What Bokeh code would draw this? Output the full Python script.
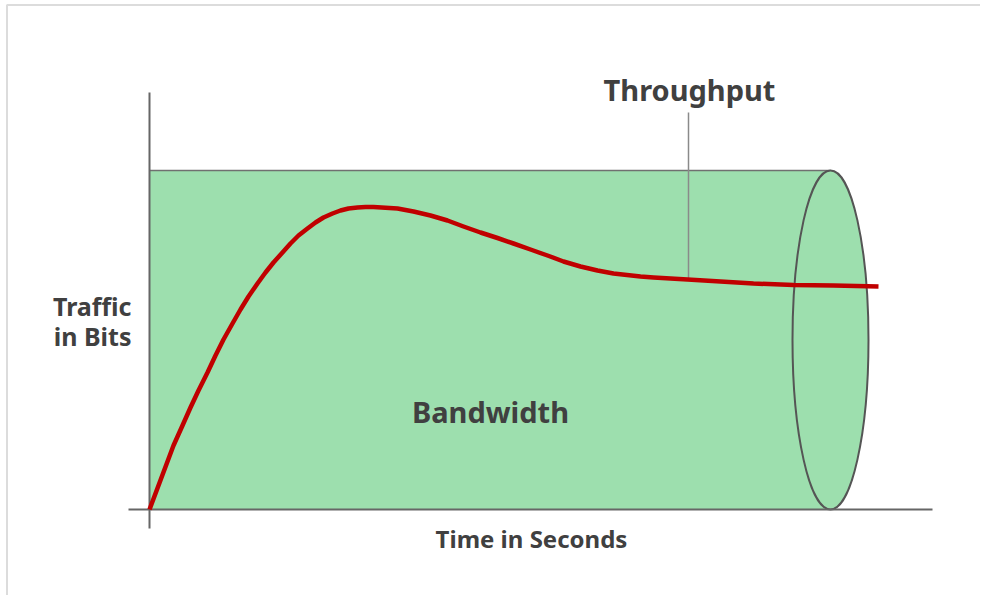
from bokeh.plotting import figure
from bokeh.models import Range1d
from bokeh.core.properties import value
from bokeh.embed import file_html
from bokeh.resources import INLINE

# ---- data (time units, traffic units; origin at axis crossing) ----
time = [0, 24, 33, 41, 49, 58, 66, 74, 83, 91, 99, 108, 116, 124, 133, 141, 149, 158,
        166, 174, 183, 191, 199, 208, 216, 224, 248, 264, 281, 298, 314, 331, 348, 364,
        381, 398, 414, 431, 448, 464, 491, 504, 538, 571, 604, 644, 684, 729]
throughput = [0, 64, 84, 102, 119, 137, 154, 170, 186, 200, 213, 226, 237, 247, 257, 266, 274, 281,
              287, 292, 296, 299, 301, 302, 302.5, 302.5, 301, 298, 294, 289, 283, 277, 271.5, 266,
              260, 254, 248, 243, 239, 236, 233, 232, 230, 228, 226, 224.5, 224, 223]
bandwidth_level = 339
pipe_length = 681
pipe_end_width = 76

x_axis_extent = [-21, 783]
y_axis_extent = [-19, 417]
leader_x = 539
leader_y = [231, 397]

label_throughput = "Throughput"
label_bandwidth = "Bandwidth"
label_x = "Time in Seconds"
label_y = ["Traffic", "in Bits"]

FONT = value("Noto Sans")
TXT = "#404040"
GREEN = "#9ddfae"

p = figure(width=980, height=595, output_backend="svg", toolbar_location=None,
           x_range=Range1d(-149, 831), y_range=Range1d(-86, 509),
           x_axis_location=None, y_axis_location=None, min_border=0,
           background_fill_color="white")
p.grid.visible = False
p.outline_line_color = None

# frame border (left and top only visible)
p.line([-142.5, -142.5, 831], [-86, 504.5, 504.5], line_color="#dcdcdc", line_width=2)

# bandwidth pipe body
p.quad(left=[0], right=[pipe_length], bottom=[0], top=[bandwidth_level],
       fill_color=GREEN, line_color=None)
p.line([0, pipe_length], [bandwidth_level, bandwidth_level], line_color="#707070", line_width=1.5)
# pipe end
p.ellipse(x=[pipe_length], y=[bandwidth_level / 2], width=[pipe_end_width], height=[bandwidth_level],
          fill_color=GREEN, line_color="#555555", line_width=2)

# axes
p.line(x_axis_extent, [0, 0], line_color="#666666", line_width=2)
p.line([0, 0], y_axis_extent, line_color="#666666", line_width=2)

# leader line
p.line([leader_x, leader_x], leader_y, line_color="#8a8a8a", line_width=1.5)

# throughput curve
p.line(time, throughput, line_color="#c00000", line_width=4.5, line_join="round")

# labels
p.text(x=[leader_x + 1], y=[420], text=[label_throughput], text_font=FONT, text_font_style="bold",
       text_font_size="29px", text_color=TXT, text_align="center", text_baseline="alphabetic")
p.text(x=[341], y=[98], text=[label_bandwidth], text_font=FONT, text_font_style="bold",
       text_font_size="29px", text_color=TXT, text_align="center", text_baseline="alphabetic")
p.text(x=[382], y=[-29], text=[label_x], text_font=FONT, text_font_style="bold",
       text_font_size="24px", text_color=TXT, text_align="center", text_baseline="alphabetic")
p.text(x=[-18, -18], y=[204, 174], text=label_y, text_font=FONT, text_font_style="bold",
       text_font_size="25px", text_color=TXT, text_align="right", text_baseline="alphabetic")

open("out.html", "w").write(file_html(p, INLINE))
